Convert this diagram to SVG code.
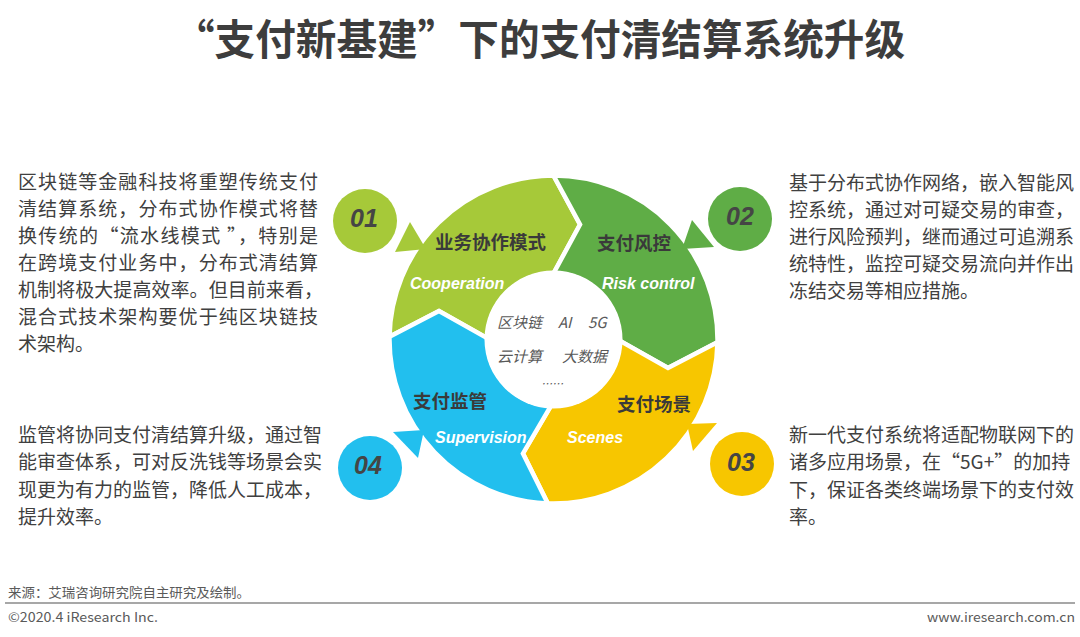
<svg xmlns="http://www.w3.org/2000/svg" width="1080" height="637" viewBox="0 0 1080 637">
<style>
.cjk{font-family:"Noto Sans CJK SC","Noto Sans",sans-serif}
.title{font-family:"Noto Sans CJK SC",sans-serif;font-size:42px;font-weight:bold;fill:#3d3d3d}
.body{font-family:"Noto Sans CJK SC",sans-serif;font-size:19px;fill:#404040}
.seg{stroke:#fff;stroke-width:4.5;stroke-linejoin:miter}
.lab{font-family:"Noto Sans CJK SC",sans-serif;font-size:18.5px;font-weight:bold;fill:#3a3a3a}
.en{font-family:"Liberation Sans",Arial,sans-serif;font-size:16px;font-weight:bold;font-style:italic;fill:#fff}
.num{font-family:"Liberation Sans",Arial,sans-serif;font-size:25px;font-weight:bold;font-style:italic;fill:#454545;text-anchor:middle}
.hub{font-family:"Noto Sans CJK SC",sans-serif;font-size:15px;font-style:italic;fill:#595959}
.foot{font-family:"Noto Sans CJK SC","Liberation Sans",sans-serif;font-size:13px;fill:#5a5a5a}
.lime{fill:#a6c939}.green{fill:#5fad46}.yellow{fill:#f7c600}.blue{fill:#22bfee}
</style>
<rect width="1080" height="637" fill="#fff"/>
<g id="title">
<text class="title" x="174" y="55" textLength="731" lengthAdjust="spacingAndGlyphs">“支付新基建”下的支付清结算系统升级</text>
</g>

<g id="ring">
<g id="seg-cooperation">
<path class="seg lime" d="M 389.52 336.64 A 164 164 0 0 1 553.5 175.5 L 580.04 224.52 L 553.5 273.5 A 66 66 0 0 0 487.51 338.35 L 439.00 310.95 Z"/>
<text class="lab" x="435" y="249">业务协作模式</text>
<text class="en" x="410" y="289">Cooperation</text>
</g>
<g id="seg-risk">
<path class="seg green" d="M 553.5 175.5 A 164 164 0 0 1 717.48 342.36 L 668.00 368.05 L 619.49 340.65 A 66 66 0 0 0 553.5 273.5 L 580.04 224.52 Z"/>
<text class="lab" x="597" y="250">支付风控</text>
<text class="en" x="602" y="289">Risk control</text>
</g>
<g id="seg-scenes">
<path class="seg yellow" d="M 717.48 342.36 A 164 164 0 0 1 547.78 503.40 L 522.96 453.48 L 551.20 405.46 A 66 66 0 0 0 619.49 340.65 L 668.00 368.05 Z"/>
<text class="lab" x="617" y="411">支付场景</text>
<text class="en" x="567" y="443">Scenes</text>
</g>
<g id="seg-supervision">
<path class="seg blue" d="M 547.78 503.40 A 164 164 0 0 1 389.52 336.64 L 439.00 310.95 L 487.51 338.35 A 66 66 0 0 0 551.20 405.46 L 522.96 453.48 Z"/>
<text class="lab" x="413" y="408">支付监管</text>
<text class="en" x="435" y="443">Supervision</text>
</g>
</g>

<g id="hub">
<circle cx="553.5" cy="339.5" r="69" fill="#fff"/>
<text class="hub" x="497" y="328">区块链</text>
<text class="hub" x="558" y="328">AI</text>
<text class="hub" x="588" y="328">5G</text>
<text class="hub" x="497" y="362">云计算</text>
<text class="hub" x="562" y="362">大数据</text>
<text class="hub" x="541" y="388" style="font-size:11px">……</text>
</g>

<g id="connectors">
<polygon class="lime" points="410,222 395,252 426,249"/>
<polygon class="green" points="692,220 714,247 682,249"/>
<polygon class="yellow" points="717,423 693,451 687,424"/>
<polygon class="blue" points="393,432 424,430 418,458"/>
</g>

<g id="badge-01">
<circle class="lime" cx="365" cy="221" r="32"/>
<text class="num" x="364" y="227">01</text>
</g>
<g id="badge-02">
<circle class="green" cx="740" cy="219" r="32"/>
<text class="num" x="740" y="225">02</text>
</g>
<g id="badge-03">
<circle class="yellow" cx="742" cy="464" r="32"/>
<text class="num" x="741" y="471">03</text>
</g>
<g id="badge-04">
<circle class="blue" cx="370" cy="468" r="32"/>
<text class="num" x="368" y="474">04</text>
</g>

<g id="text-01">
<text class="body" x="18" y="189" textLength="300" lengthAdjust="spacing">区块链等金融科技将重塑传统支付</text>
<text class="body" x="18" y="216" textLength="300" lengthAdjust="spacing">清结算系统，分布式协作模式将替</text>
<text class="body" x="18" y="243" textLength="300" lengthAdjust="spacing">换传统的“流水线模式 ”，特别是</text>
<text class="body" x="18" y="270" textLength="300" lengthAdjust="spacing">在跨境支付业务中，分布式清结算</text>
<text class="body" x="18" y="297" textLength="305" lengthAdjust="spacing">机制将极大提高效率。但目前来看，</text>
<text class="body" x="18" y="324" textLength="300" lengthAdjust="spacing">混合式技术架构要优于纯区块链技</text>
<text class="body" x="18" y="351">术架构。</text>
</g>
<g id="text-02">
<text class="body" x="789" y="190">基于分布式协作网络，嵌入智能风</text>
<text class="body" x="789" y="217">控系统，通过对可疑交易的审查，</text>
<text class="body" x="789" y="244">进行风险预判，继而通过可追溯系</text>
<text class="body" x="789" y="271">统特性，监控可疑交易流向并作出</text>
<text class="body" x="789" y="298">冻结交易等相应措施。</text>
</g>
<g id="text-03">
<text class="body" x="789" y="442">新一代支付系统将适配物联网下的</text>
<text class="body" x="789" y="469">诸多应用场景，在“5G+”的加持</text>
<text class="body" x="789" y="497">下，保证各类终端场景下的支付效</text>
<text class="body" x="789" y="524">率。</text>
</g>
<g id="text-04">
<text class="body" x="18" y="442">监管将协同支付清结算升级，通过智</text>
<text class="body" x="18" y="469">能审查体系，可对反洗钱等场景会实</text>
<text class="body" x="18" y="497">现更为有力的监管，降低人工成本，</text>
<text class="body" x="18" y="524">提升效率。</text>
</g>

<g id="footer">
<text class="foot" x="8" y="597" textLength="242" lengthAdjust="spacingAndGlyphs">来源：艾瑞咨询研究院自主研究及绘制。</text>
<line x1="5" y1="603" x2="1075" y2="603" stroke="#8a8a8a" stroke-width="1.5"/>
<text class="foot" x="8" y="622" textLength="150" lengthAdjust="spacingAndGlyphs">©2020.4 iResearch Inc.</text>
<text class="foot" x="1075" y="622" text-anchor="end" textLength="148" lengthAdjust="spacingAndGlyphs">www.iresearch.com.cn</text>
</g>
</svg>
